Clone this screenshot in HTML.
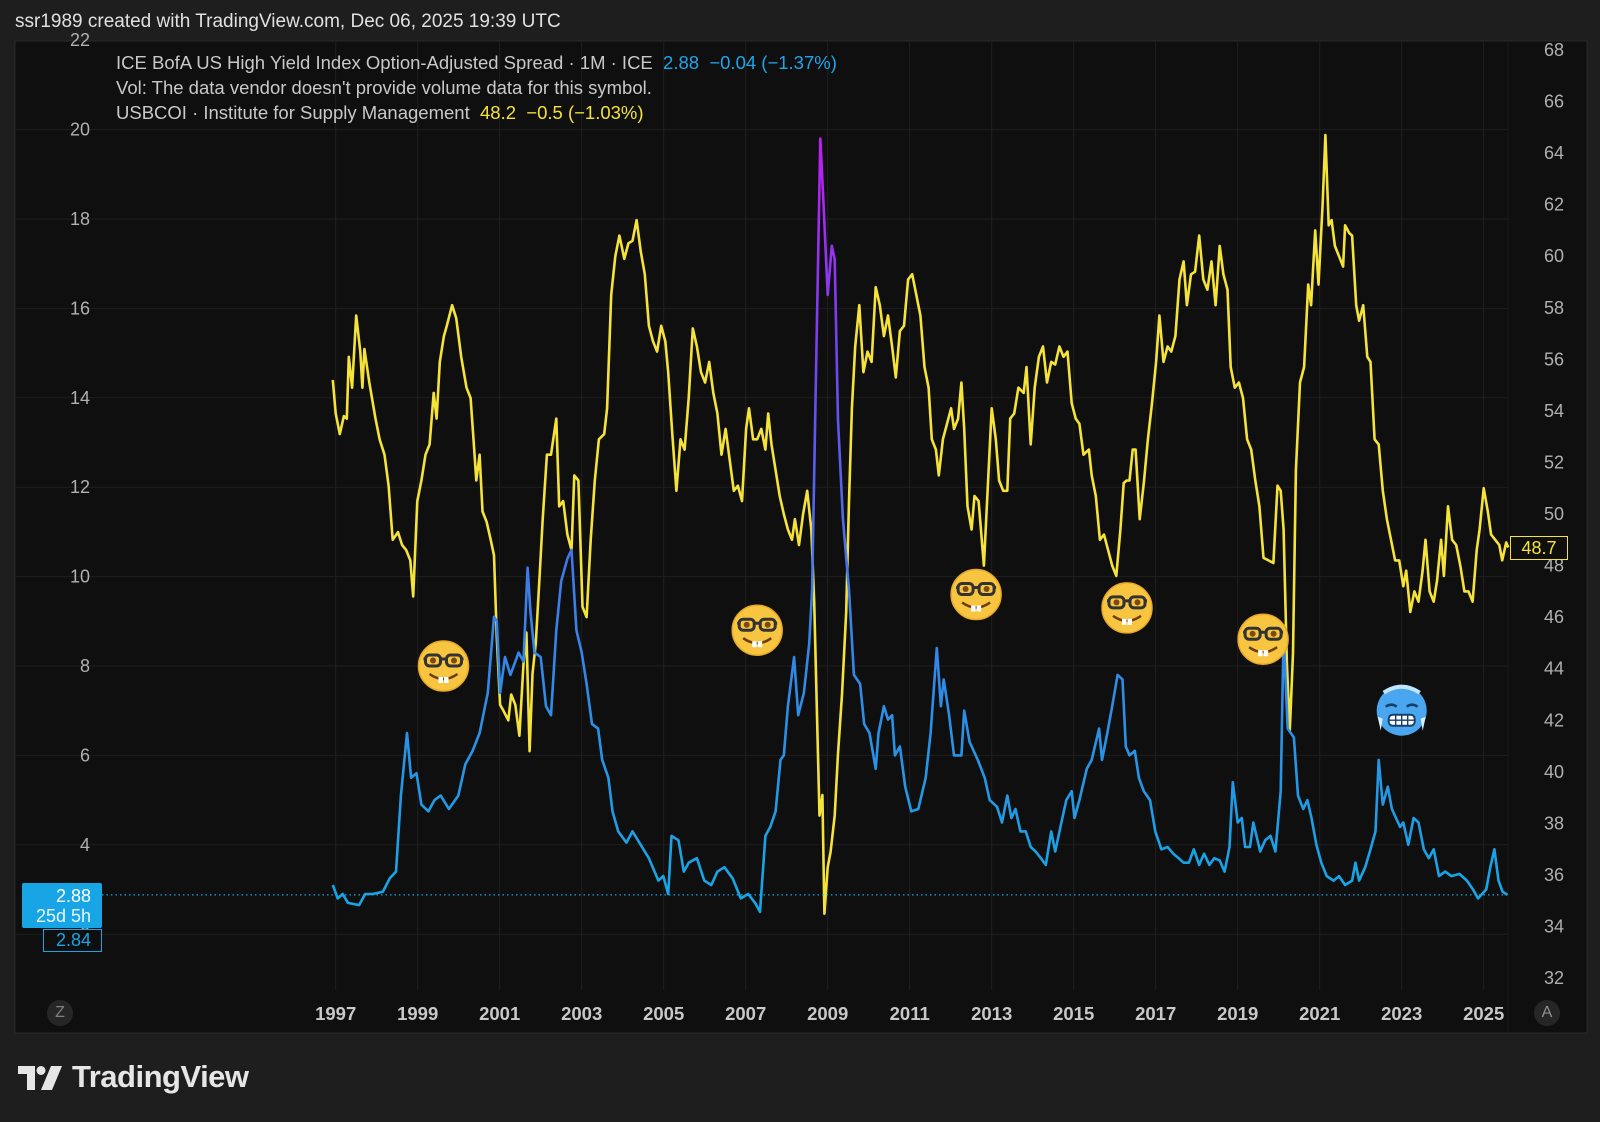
<!DOCTYPE html>
<html><head><meta charset="utf-8">
<style>
html,body{margin:0;padding:0;background:#1e1e1e;width:1600px;height:1122px;overflow:hidden;font-family:"Liberation Sans",sans-serif;}
#wrap{position:relative;width:1600px;height:1122px;}
.abs{position:absolute;white-space:nowrap;}
</style></head>
<body>
<div id="wrap">
<div class="abs" style="left:15px;top:11px;font-size:19px;color:#e0e0e0;">ssr1989 created with TradingView.com, Dec 06, 2025 19:39 UTC</div>
<svg id="chart" width="1600" height="1122" style="position:absolute;left:0;top:0">
  <defs>
    <linearGradient id="hyGrad" gradientUnits="userSpaceOnUse" x1="0" y1="129.6" x2="0" y2="890">
      <stop offset="0" stop-color="#c21cf2"/>
      <stop offset="0.3" stop-color="#7045ee"/>
      <stop offset="0.62" stop-color="#3b7fe8"/>
      <stop offset="1" stop-color="#16a6e6"/>
    </linearGradient>
  </defs>
  <rect x="15" y="41" width="1572" height="992" fill="#0f0f0f" stroke="#2a2a2a"/>
  <g id="grid"></g>
  <g id="axes"></g>
  <g id="series"></g>
  <g id="overlay"></g>
</svg>
<div class="abs" style="left:116px;top:52px;font-size:18.5px;color:#c8c8c8;">ICE BofA US High Yield Index Option-Adjusted Spread · 1M · ICE&nbsp; <span style="color:#1fa5ea">2.88&nbsp; −0.04 (−1.37%)</span></div>
<div class="abs" style="left:116px;top:77px;font-size:18.5px;color:#c8c8c8;">Vol: The data vendor doesn't provide volume data for this symbol.</div>
<div class="abs" style="left:116px;top:102px;font-size:18.5px;color:#c8c8c8;">USBCOI · Institute for Supply Management&nbsp; <span style="color:#f5e33a">48.2&nbsp; −0.5 (−1.03%)</span></div>
<div class="abs" style="left:22px;top:883px;width:80px;height:45px;background:#17a5e6;border-radius:2px;color:#fff;font-size:18px;text-align:right;line-height:20px;"><div style="padding:3px 11px 0 0">2.88</div><div style="padding-right:11px;color:#e8f6ff">25d 5h</div></div>
<div class="abs" style="left:43px;top:929px;width:57px;height:21px;border:1.5px solid #17a5e6;background:#0f0f0f;color:#17a5e6;font-size:18px;text-align:right;line-height:21px;"><span style="padding-right:10px">2.84</span></div>
<div class="abs" style="left:1510px;top:536px;width:56px;height:22px;border:1.5px solid #f5e33a;background:#0f0f0f;color:#f5e33a;font-size:18px;text-align:center;line-height:22px;">48.7</div>
<div class="abs" style="left:47px;top:1000px;width:26px;height:26px;border-radius:13px;background:#262626;color:#808080;font-size:16px;text-align:center;line-height:26px;">Z</div>
<div class="abs" style="left:1534px;top:1000px;width:26px;height:26px;border-radius:13px;background:#262626;color:#909090;font-size:16px;text-align:center;line-height:26px;">A</div>
<div class="abs" style="left:18px;top:1062px;height:34px;">
  <svg width="44" height="28" style="position:absolute;left:0;top:4px">
    <path d="M0 0 H17 V24 H9 V8 H0 Z" fill="#e6e6e6"/>
    <circle cx="23" cy="4.5" r="4.5" fill="#e6e6e6"/>
    <path d="M33 0 H44 L34 24 H23 Z" fill="#e6e6e6"/>
  </svg>
  <span style="position:absolute;left:54px;top:-3px;font-size:31px;font-weight:bold;color:#e6e6e6;letter-spacing:-0.5px">TradingView</span>
</div>
</div>
<script>
const leftTicks=[2,4,6,8,10,12,14,16,18,20,22];
const rightTicks=[32,34,36,38,40,42,44,46,48,50,52,54,56,58,60,62,64,66,68];
const yearTicks=[1997,1999,2001,2003,2005,2007,2009,2011,2013,2015,2017,2019,2021,2023,2025];
const hyDates=[1996.93,1997.05,1997.17,1997.30,1997.57,1997.72,1997.90,1998.15,1998.32,1998.47,1998.59,1998.74,1998.84,1998.97,1999.09,1999.26,1999.41,1999.56,1999.76,1999.99,2000.16,2000.34,2000.51,2000.71,2000.86,2000.93,2001.01,2001.13,2001.26,2001.46,2001.58,2001.68,2001.75,2001.85,2002.00,2002.13,2002.25,2002.38,2002.50,2002.65,2002.75,2002.87,2003.00,2003.12,2003.25,2003.40,2003.50,2003.65,2003.75,2003.89,2004.09,2004.24,2004.44,2004.64,2004.87,2004.99,2005.11,2005.19,2005.36,2005.49,2005.61,2005.81,2005.99,2006.16,2006.31,2006.48,2006.68,2006.88,2007.06,2007.23,2007.35,2007.48,2007.60,2007.73,2007.85,2007.93,2008.03,2008.18,2008.28,2008.42,2008.55,2008.62,2008.70,2008.82,2008.90,2009.00,2009.10,2009.17,2009.25,2009.37,2009.52,2009.64,2009.79,2009.89,2010.02,2010.17,2010.24,2010.37,2010.47,2010.57,2010.64,2010.76,2010.89,2011.04,2011.21,2011.39,2011.51,2011.66,2011.76,2011.83,2011.96,2012.08,2012.26,2012.33,2012.46,2012.66,2012.83,2012.95,2013.13,2013.25,2013.38,2013.48,2013.58,2013.70,2013.83,2013.95,2014.07,2014.20,2014.32,2014.45,2014.55,2014.70,2014.82,2014.95,2015.02,2015.14,2015.32,2015.44,2015.62,2015.69,2015.82,2015.94,2016.07,2016.19,2016.27,2016.36,2016.49,2016.59,2016.71,2016.86,2016.99,2017.14,2017.29,2017.43,2017.56,2017.68,2017.81,2017.93,2018.06,2018.18,2018.31,2018.43,2018.56,2018.68,2018.80,2018.88,2019.00,2019.10,2019.18,2019.30,2019.38,2019.55,2019.67,2019.80,2019.92,2020.05,2020.12,2020.22,2020.37,2020.47,2020.60,2020.70,2020.80,2020.92,2021.04,2021.17,2021.34,2021.47,2021.62,2021.79,2021.87,2021.96,2022.11,2022.24,2022.36,2022.44,2022.54,2022.66,2022.76,2022.86,2022.96,2023.04,2023.16,2023.29,2023.41,2023.54,2023.66,2023.78,2023.91,2024.06,2024.21,2024.41,2024.59,2024.74,2024.86,2024.96,2025.06,2025.16,2025.26,2025.36,2025.46,2025.58];
const hyValues=[3.1,2.8,2.9,2.7,2.65,2.9,2.9,2.95,3.25,3.4,5.1,6.5,5.5,5.6,4.9,4.75,5.0,5.1,4.8,5.1,5.8,6.1,6.5,7.4,9.1,9.0,7.4,8.2,7.8,8.3,8.1,10.2,9.2,8.3,8.2,7.1,6.9,8.8,9.9,10.4,10.6,8.8,8.3,7.6,6.7,6.6,5.9,5.5,4.75,4.3,4.05,4.3,4.0,3.7,3.2,3.3,2.9,4.2,4.1,3.4,3.6,3.7,3.2,3.1,3.4,3.5,3.25,2.8,2.9,2.7,2.5,4.2,4.4,4.75,5.9,6.0,7.1,8.2,6.9,7.4,8.5,9.7,13.8,19.8,18.3,16.3,17.4,17.1,13.5,11.3,9.7,7.8,7.6,6.7,6.5,5.7,6.5,7.1,6.8,6.9,6.0,6.2,5.3,4.75,4.8,5.5,6.5,8.4,7.1,7.7,6.9,6.0,6.0,7.0,6.3,5.9,5.5,5.0,4.85,4.5,5.1,4.6,4.8,4.3,4.3,3.95,3.85,3.7,3.55,4.3,3.85,4.5,5.0,5.2,4.6,5.0,5.7,5.9,6.6,5.9,6.5,7.1,7.8,7.7,6.2,6.0,6.1,5.5,5.2,5.0,4.3,3.9,3.95,3.8,3.7,3.6,3.6,3.9,3.55,3.8,3.55,3.7,3.65,3.4,3.95,5.4,4.5,4.6,3.95,3.95,4.5,3.85,4.1,4.2,3.85,5.2,8.7,6.6,6.4,5.1,4.8,5.0,4.6,4.0,3.6,3.3,3.2,3.3,3.1,3.2,3.6,3.2,3.5,3.9,4.3,5.9,4.9,5.3,4.8,4.6,4.4,4.5,4.0,4.6,4.5,3.9,3.7,3.9,3.3,3.4,3.3,3.35,3.2,3.0,2.8,2.9,3.0,3.5,3.9,3.2,2.95,2.88];
const ismDates=[1996.93,1997.00,1997.10,1997.20,1997.27,1997.32,1997.40,1997.50,1997.60,1997.65,1997.70,1997.82,1997.97,1998.07,1998.19,1998.29,1998.39,1998.52,1998.62,1998.72,1998.82,1998.89,1998.99,1999.09,1999.19,1999.29,1999.39,1999.46,1999.54,1999.64,1999.71,1999.84,1999.94,2000.06,2000.19,2000.29,2000.36,2000.43,2000.51,2000.58,2000.68,2000.78,2000.86,2000.93,2001.01,2001.08,2001.21,2001.28,2001.38,2001.48,2001.58,2001.65,2001.73,2001.80,2001.88,2001.98,2002.05,2002.15,2002.25,2002.38,2002.45,2002.55,2002.65,2002.75,2002.82,2002.92,2003.02,2003.12,2003.22,2003.32,2003.42,2003.55,2003.62,2003.72,2003.82,2003.92,2004.04,2004.14,2004.24,2004.34,2004.44,2004.54,2004.64,2004.74,2004.84,2004.94,2005.04,2005.11,2005.21,2005.31,2005.41,2005.51,2005.61,2005.71,2005.81,2005.91,2006.01,2006.11,2006.21,2006.31,2006.41,2006.51,2006.61,2006.71,2006.81,2006.91,2007.01,2007.08,2007.18,2007.28,2007.38,2007.48,2007.55,2007.63,2007.73,2007.83,2007.93,2008.03,2008.13,2008.20,2008.30,2008.40,2008.50,2008.60,2008.67,2008.75,2008.80,2008.87,2008.92,2009.00,2009.07,2009.17,2009.25,2009.35,2009.45,2009.52,2009.59,2009.67,2009.77,2009.87,2009.97,2010.07,2010.17,2010.27,2010.37,2010.47,2010.57,2010.66,2010.76,2010.86,2010.96,2011.06,2011.16,2011.26,2011.36,2011.46,2011.54,2011.64,2011.71,2011.81,2011.91,2012.01,2012.08,2012.18,2012.26,2012.33,2012.41,2012.51,2012.58,2012.68,2012.81,2012.90,2013.00,2013.10,2013.18,2013.28,2013.38,2013.45,2013.55,2013.65,2013.78,2013.85,2013.95,2014.05,2014.15,2014.25,2014.35,2014.45,2014.55,2014.65,2014.75,2014.85,2014.95,2015.05,2015.14,2015.24,2015.37,2015.44,2015.54,2015.64,2015.74,2015.84,2015.94,2016.04,2016.14,2016.22,2016.29,2016.36,2016.44,2016.51,2016.61,2016.71,2016.81,2016.91,2017.01,2017.09,2017.19,2017.29,2017.38,2017.48,2017.58,2017.68,2017.76,2017.86,2017.96,2018.06,2018.16,2018.26,2018.36,2018.46,2018.56,2018.65,2018.75,2018.83,2018.93,2019.03,2019.13,2019.23,2019.33,2019.43,2019.53,2019.63,2019.75,2019.87,2019.97,2020.05,2020.12,2020.20,2020.27,2020.35,2020.42,2020.52,2020.62,2020.72,2020.79,2020.89,2020.97,2021.07,2021.14,2021.22,2021.29,2021.37,2021.47,2021.57,2021.62,2021.72,2021.79,2021.89,2021.96,2022.06,2022.16,2022.24,2022.34,2022.44,2022.54,2022.64,2022.74,2022.84,2022.94,2023.04,2023.11,2023.21,2023.31,2023.41,2023.51,2023.58,2023.68,2023.78,2023.86,2023.96,2024.03,2024.13,2024.23,2024.33,2024.43,2024.53,2024.63,2024.73,2024.83,2024.90,2025.00,2025.10,2025.18,2025.28,2025.38,2025.45,2025.55,2025.60];
const ismValues=[55.2,53.9,53.1,53.8,53.7,56.1,54.9,57.7,56.3,54.9,56.4,55.1,53.7,52.9,52.3,51.1,49.0,49.3,48.8,48.6,48.2,46.8,50.5,51.3,52.3,52.7,54.7,53.7,55.9,56.9,57.3,58.1,57.6,56.1,54.9,54.5,52.9,51.3,52.3,50.1,49.7,49.0,48.4,45.2,42.6,42.4,42.0,43.0,42.6,41.4,44.2,45.4,40.8,43.8,45.0,47.8,49.8,52.3,52.3,53.7,50.3,50.5,49.2,48.6,51.5,51.3,46.4,46.0,49.0,51.3,52.9,53.1,54.1,58.5,60.0,60.8,59.9,60.5,60.6,61.4,60.2,59.3,57.3,56.7,56.3,57.3,56.7,55.5,53.1,50.9,52.9,52.5,54.5,57.2,56.5,55.5,55.1,55.9,54.7,53.9,52.3,53.3,52.1,50.9,51.1,50.5,53.3,54.1,52.9,52.9,53.3,52.5,53.9,52.7,51.7,50.7,50.0,49.4,49.0,49.8,48.8,50.0,50.9,49.4,46.6,41.4,38.3,39.1,34.5,36.3,36.9,38.3,40.7,43.0,46.2,50.5,54.1,56.5,58.1,55.5,56.3,55.9,58.8,58.1,56.9,57.7,56.5,55.3,57.1,57.3,59.1,59.3,58.5,57.7,55.7,54.9,52.9,52.5,51.5,52.9,53.5,54.1,53.3,53.7,55.1,53.3,50.3,49.4,50.7,50.5,48.0,50.9,54.1,52.9,51.3,50.9,50.9,53.7,53.9,54.9,54.7,55.7,52.7,54.9,56.1,56.5,55.1,55.9,55.8,56.5,56.1,56.3,54.3,53.7,53.5,52.3,52.5,51.5,50.7,49.0,49.2,48.6,48.0,47.6,49.4,51.2,51.3,51.3,52.5,52.5,49.8,51.2,52.9,54.3,55.9,57.7,55.9,56.5,56.3,56.9,59.1,59.8,58.1,59.3,59.4,60.8,59.1,58.7,59.8,58.1,60.4,59.3,58.7,55.7,54.9,55.1,54.5,52.9,52.5,51.3,50.3,48.3,48.2,48.1,51.1,50.9,49.4,44.2,41.6,44.6,51.7,55.1,55.7,58.9,58.1,61.0,58.9,62.0,64.7,61.2,61.4,60.4,60.0,59.6,61.2,60.9,60.8,58.1,57.5,58.1,56.1,55.9,52.9,52.7,50.9,49.8,49.0,48.2,48.2,47.2,47.8,46.2,47.0,46.6,47.8,49.0,47.0,46.6,47.4,49.0,47.6,50.3,49.0,48.8,48.0,47.0,47.0,46.6,48.6,49.4,51.0,50.1,49.2,49.0,48.8,48.2,48.9,48.7];
const emojiDates=[1999.63,2007.28,2012.62,2016.3,2019.62,2023.0];
const emojiLevels=[8.0,8.8,9.6,9.3,8.6,7.0];
const emojiKinds=['nerd','nerd','nerd','nerd','nerd','cold'];

const NS='http://www.w3.org/2000/svg';
const PL=15, PR=1508, PT=41, PB=990;
function xOf(yr){return 335.7+(yr-1997)*41.0;}
function yL(v){return 129.6+(20-v)*44.7;}
function yR(v){return 153.1+(64-v)*25.78;}
function mk(tag,attrs,parent){const e=document.createElementNS(NS,tag);for(const k in attrs)e.setAttribute(k,attrs[k]);parent.appendChild(e);return e;}
const grid=document.getElementById('grid'),axes=document.getElementById('axes'),series=document.getElementById('series'),overlay=document.getElementById('overlay');

leftTicks.forEach(t=>{
  const y=yL(t);
  if(y>PT&&y<PB){const l=mk('line',{x1:PL,x2:PR,y1:y,y2:y,stroke:'#1f1f1f','stroke-width':1},grid);
  
  }
  const tx=mk('text',{x:90,y:y+6,'text-anchor':'end','font-size':18,fill:'#b0b0b0','font-family':'Liberation Sans, sans-serif'},axes);
  tx.textContent=t;
  
  
});
rightTicks.forEach(t=>{
  const y=yR(t);
  const tx=mk('text',{x:1554,y:y+6,'text-anchor':'middle','font-size':18,fill:'#b0b0b0','font-family':'Liberation Sans, sans-serif'},axes);
  tx.textContent=t;
  
  
});
yearTicks.forEach(t=>{
  const x=xOf(t);
  const l=mk('line',{x1:x,x2:x,y1:PT,y2:PB,stroke:'#1f1f1f','stroke-width':1},grid);
  
  
  const tx=mk('text',{x:x,y:1020,'text-anchor':'middle','font-size':18.5,'font-weight':'bold',fill:'#c8c8c8','font-family':'Liberation Sans, sans-serif'},axes);
  tx.textContent=t;
  
  
});
const sep=mk('line',{x1:PR,x2:PR,y1:PT,y2:1033,stroke:'#1a1a1a','stroke-width':1},axes);



function pathFrom(dates,vals,yf){
  const n=Math.min(dates.length,vals.length);let d='';
  for(let i=0;i<n;i++){d+=(i?'L':'M')+xOf(dates[i]).toFixed(1)+' '+yf(vals[i]).toFixed(1);}
  return d;
}
const ism=mk('path',{d:pathFrom(ismDates,ismValues,yR),fill:'none',stroke:'#f5e33a','stroke-width':2.6,'stroke-linejoin':'round'},series);


const hy=mk('path',{d:pathFrom(hyDates,hyValues,yL),fill:'none',stroke:'url(#hyGrad)','stroke-width':2.6,'stroke-linejoin':'round'},series);


const lastHy=hyValues[hyValues.length-1];
const pl=mk('line',{x1:102,x2:PR,y1:yL(lastHy),y2:yL(lastHy),stroke:'#17a5e6','stroke-width':1.3,'stroke-dasharray':'1.5 3'},series);



function nerd(g){
  mk('circle',{cx:0,cy:0,r:25,fill:'#f7c540'},g);
  mk('circle',{cx:0,cy:0,r:25,fill:'none',stroke:'#e8a92a','stroke-width':1.5},g);
  mk('path',{d:'M-20 -7 H20',stroke:'#333','stroke-width':3},g);
  mk('rect',{x:-18,y:-11,width:15,height:11,rx:4,fill:'#f7c540',stroke:'#333','stroke-width':3},g);
  mk('rect',{x:3,y:-11,width:15,height:11,rx:4,fill:'#f7c540',stroke:'#333','stroke-width':3},g);
  mk('circle',{cx:-10.5,cy:-5.5,r:3,fill:'#7a4a12'},g);
  mk('circle',{cx:10.5,cy:-5.5,r:3,fill:'#7a4a12'},g);
  mk('path',{d:'M-14 8 Q0 18 14 8',fill:'none',stroke:'#6b3d10','stroke-width':2.5},g);
  mk('rect',{x:-5,y:11,width:4.5,height:6,fill:'#fff'},g);
  mk('rect',{x:0.5,y:11,width:4.5,height:6,fill:'#fff'},g);
}
function cold(g){
  mk('circle',{cx:0,cy:0,r:25,fill:'#4aa6ee'},g);
  mk('path',{d:'M-18 -18 Q0 -30 18 -18',fill:'none',stroke:'#bfe6ff','stroke-width':4},g);
  mk('path',{d:'M-16 -4 Q-10 -8 -5 -4 M5 -4 Q10 -8 16 -4',fill:'none',stroke:'#173f6b','stroke-width':2.5},g);
  mk('rect',{x:-13,y:4,width:26,height:11,rx:4,fill:'#fff',stroke:'#173f6b','stroke-width':2},g);
  mk('path',{d:'M-13 9.5 H13 M-6 4 V15 M0 4 V15 M6 4 V15',stroke:'#173f6b','stroke-width':1.4},g);
  mk('path',{d:'M-24 6 L-21 20 L-19 8 Z M24 6 L21 20 L19 8 Z',fill:'#d6f0ff'},g);
}
for(let i=0;i<emojiDates.length;i++){
  const g=mk('g',{transform:'translate('+xOf(emojiDates[i]).toFixed(1)+','+yL(emojiLevels[i]).toFixed(1)+')'},overlay);
  
  
  if(emojiKinds[i]==='nerd')nerd(g);else cold(g);
}
</script>
</body></html>
